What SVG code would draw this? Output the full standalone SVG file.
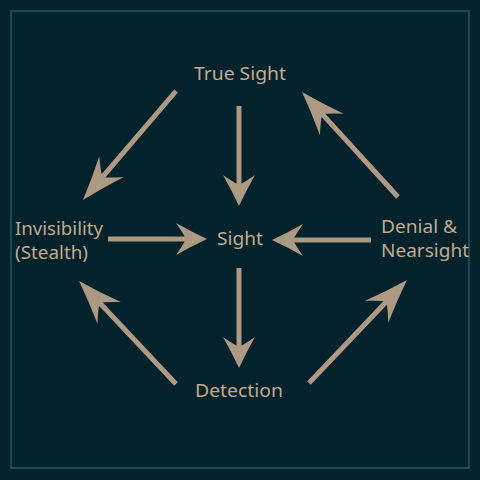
<svg xmlns="http://www.w3.org/2000/svg" width="480" height="480" viewBox="0 0 480 480">
<style>
.lbl{font-family:"Noto Sans","Lato",sans-serif;font-size:18.5px;fill:#c2ab91}
.c{stroke:#ae9a84;stroke-width:5;fill:none}
.h{fill:#ae9a84}
</style>
<defs>
<marker id="ah" markerUnits="userSpaceOnUse" markerWidth="40" markerHeight="40" viewBox="-16 -18 40 36" refX="0" refY="0" orient="auto" overflow="visible">
<path class="h" d="M21,0 Q6,-7 -10,-16 Q-3,-6 0,0 Q-3,6 -10,16 Q6,7 21,0 Z"/>
</marker>
<marker id="ahl" markerUnits="userSpaceOnUse" markerWidth="50" markerHeight="40" viewBox="-16 -18 50 36" refX="0" refY="0" orient="auto" overflow="visible">
<path class="h" d="M30,0 Q8,-7 -14,-16 Q-4,-6 0,0 Q-4,6 -14,16 Q8,7 30,0 Z"/>
</marker>
</defs>
<rect x="0" y="0" width="480" height="480" fill="#03222b"/>
<rect x="11" y="11" width="458" height="457" fill="none" stroke="#1e5a6a" stroke-width="1.5"/>
<g id="connectors">
<line class="c" x1="176" y1="91" x2="102.4" y2="177.2" marker-end="url(#ahl)"/>
<line class="c" x1="239" y1="106" x2="239" y2="185" marker-end="url(#ah)"/>
<line class="c" x1="108" y1="239" x2="186" y2="239" marker-end="url(#ah)"/>
<line class="c" x1="371" y1="240" x2="293" y2="240" marker-end="url(#ah)"/>
<line class="c" x1="239" y1="268" x2="239" y2="347" marker-end="url(#ah)"/>
<line class="c" x1="176" y1="384" x2="99.6" y2="302.8" marker-end="url(#ahl)"/>
<line class="c" x1="309" y1="383" x2="386.3" y2="301.7" marker-end="url(#ahl)"/>
<line class="c" x1="398" y1="197" x2="322.3" y2="114.1" marker-end="url(#ahl)"/>
</g>
<g id="true-sight"><text class="lbl" x="194" y="80" textLength="92" lengthAdjust="spacingAndGlyphs">True Sight</text></g>
<g id="sight"><text class="lbl" x="217" y="245" textLength="46" lengthAdjust="spacingAndGlyphs">Sight</text></g>
<g id="invisibility"><text class="lbl" x="15" y="235" textLength="88" lengthAdjust="spacingAndGlyphs">Invisibility</text><text class="lbl" x="15" y="259" textLength="73" lengthAdjust="spacingAndGlyphs">(Stealth)</text></g>
<g id="denial"><text class="lbl" x="381" y="233" textLength="76" lengthAdjust="spacingAndGlyphs">Denial &amp;</text><text class="lbl" x="381" y="257" textLength="88" lengthAdjust="spacingAndGlyphs">Nearsight</text></g>
<g id="detection"><text class="lbl" x="195" y="397" textLength="88" lengthAdjust="spacingAndGlyphs">Detection</text></g>
</svg>
